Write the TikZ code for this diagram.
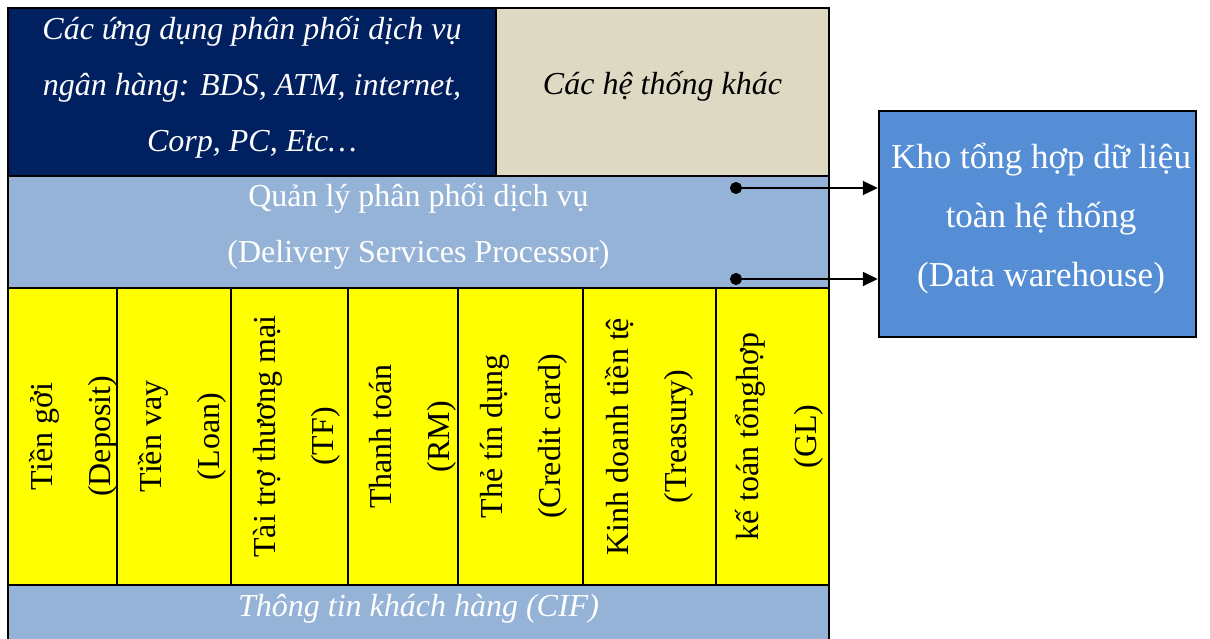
\documentclass[tikz,border=0pt]{standalone}
\usepackage{fontspec}
\setmainfont{Liberation Serif}
\usepackage{xcolor}
\usepackage{tikz}
\usetikzlibrary{positioning}
\usetikzlibrary{arrows.meta}
\definecolor{appnavy}{RGB}{0,32,96}
\definecolor{otherbeige}{RGB}{221,217,195}
\definecolor{bandblue}{RGB}{149,179,215}
\definecolor{coreyellow}{RGB}{255,255,0}
\definecolor{dwblue}{RGB}{85,142,213}

\begin{document}
\begin{tikzpicture}
  [
    x=1pt, y=-1pt,
    box/.style={
       draw=black,
       line width=2.5pt,
       inner sep=0pt
    },
    txt/.style={
       align=center,
       inner sep=0pt,
       font=\fontsize{32}{56}\selectfont
    },
    slant/.style={
       txt,
       font=\fontsize{32}{56}\selectfont\itshape
    },
    col/.style={
       box,
       fill=coreyellow,
       minimum height=297pt
    },
    lbl/.style={
       txt,
       rotate=90,
       font=\fontsize{32}{58}\selectfont
    },
    ld/.style={
       draw=black,
       line width=2pt,
       {Circle[length=12pt]}-{Triangle[length=15pt,width=14pt]}
    }
  ]
  \useasboundingbox (0,0) rectangle (1210,639);
  \clip (0,0) rectangle (1210,639);

  \node (app)   at (252.0, 92.0) [box, fill=appnavy,    minimum width=488pt, minimum height=168pt] {};
  \node (other) at (662.5, 92.0) [box, fill=otherbeige, minimum width=333pt, minimum height=168pt] {};
  \node (dsp)   at (418.5,232.0) [box, fill=bandblue,   minimum width=821pt, minimum height=112pt] {};
  \node (cif)   at (418.5,615.0) [box, fill=bandblue,   minimum width=821pt, minimum height=60pt]  {};
  \node (dw)    at (1037.5,224.0) [box, fill=dwblue,    minimum width=317pt, minimum height=226pt] {};

  \node (m1) at ( 62.5,436.5) [col, minimum width=109pt] {};
  \node (m2) at (174.0,436.5) [col, minimum width=114pt] {};
  \node (m3) at (289.5,436.5) [col, minimum width=117pt] {};
  \node (m4) at (403.0,436.5) [col, minimum width=110pt] {};
  \node (m5) at (520.5,436.5) [col, minimum width=125pt] {};
  \node (m6) at (649.5,436.5) [col, minimum width=133pt] {};
  \node (m7) at (772.5,436.5) [col, minimum width=113pt] {};

  \node (appt)   at (252.0, 87.0) [slant, text=white] {Các ứng dụng phân phối dịch vụ\\ngân hàng: BDS, ATM, internet,\\Corp, PC, Etc…};
  \node (othert) at (662.5, 86.0) [slant] {Các hệ thống khác};
  \node (dspt)   at (418.5,226.5) [txt, text=white] {Quản lý phân phối dịch vụ\\(Delivery Services Processor)};
  \node (cift)   at (418.5,609.0) [slant, text=white] {Thông tin khách hàng (CIF)};
  \node (dwt)    at (1041.0,219.0) [txt, text=white, font=\fontsize{35}{59}\selectfont]
        {Kho tổng hợp dữ liệu\\toàn hệ thống\\(Data warehouse)};

  \node (t1) at ( 73.5,436.5) [lbl] {Tiền gởi\\(Deposit)};
  \node (t2) at (182.0,436.5) [lbl] {Tiền vay\\(Loan)};
  \node (t3) at (296.5,436.5) [lbl] {Tài trợ thương mại\\(TF)};
  \node (t4) at (413.0,436.5) [lbl] {Thanh toán\\(RM)};
  \node (t5) at (524.0,436.5) [lbl] {Thẻ tín dụng\\(Credit card)};
  \node (t6) at (649.5,436.5) [lbl] {Kinh doanh tiền tệ\\(Treasury)};
  \node (t7) at (779.5,436.5) [lbl] {kế toán tổnghợp\\(GL)};

  \coordinate (p1) at (730,188);
  \coordinate (p2) at (730,279);
  \draw [ld] (p1) -- (p1 -| dw.west);
  \draw [ld] (p2) -- (p2 -| dw.west);
\end{tikzpicture}
\end{document}
